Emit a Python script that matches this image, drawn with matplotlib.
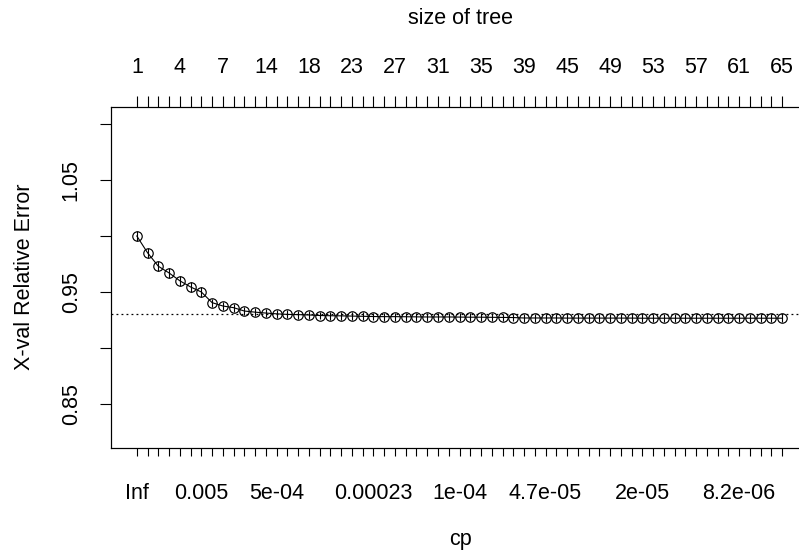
import numpy as np
import matplotlib.pyplot as plt

plt.rcParams['font.family'] = ['Liberation Sans', 'DejaVu Sans']

# ---------- DATA ----------
# cross-validated relative error for each cp step (61 steps)
xerror = [1.000, 0.985, 0.973, 0.967, 0.960, 0.9545, 0.950, 0.9405, 0.9375, 0.936,
          0.933, 0.932, 0.9312, 0.9305, 0.930, 0.9298, 0.9295, 0.929, 0.9288, 0.9287,
          0.9285, 0.9283, 0.9281, 0.928, 0.928, 0.9279, 0.9278, 0.9277, 0.9277, 0.9277,
          0.9276, 0.9275, 0.9275, 0.9274, 0.9273, 0.9272, 0.9268, 0.9268, 0.9268, 0.9268,
          0.9267, 0.9267, 0.9267, 0.9267, 0.9267, 0.9267, 0.9267, 0.9266, 0.9266, 0.9266,
          0.9266, 0.9266, 0.9266, 0.9266, 0.9266, 0.9266, 0.9266, 0.9266, 0.9266, 0.9266,
          0.9266]
xstd = [0.0045] * 7 + [0.0035] * 54

size_pos = [1, 5, 9, 13, 17, 21, 25, 29, 33, 37, 41, 45, 49, 53, 57, 61]
size_labels = ["1", "4", "7", "14", "18", "23", "27", "31", "35", "39", "45", "49",
               "53", "57", "61", "65"]

cp_pos = [1, 7, 14, 23, 31, 39, 48, 57]
cp_labels = ["Inf", "0.005", "5e-04", "0.00023", "1e-04", "4.7e-05", "2e-05", "8.2e-06"]

y_ticks = [0.85, 0.90, 0.95, 1.00, 1.05, 1.10]
y_labels = ["0.85", "", "0.95", "", "1.05", ""]

# ---------- PLOT ----------
W, H = 799, 553
FS = 15.5
fig = plt.figure(figsize=(W / 100, H / 100), dpi=100)
ax = fig.add_axes([111 / W, 1 - 448 / H, (808 - 111) / W, (448 - 107) / H])

pos = np.arange(1, len(xerror) + 1)
err = np.array(xerror)
std = np.array(xstd)

ax.vlines(pos, err - std, err + std, color="black", lw=0.8)
ax.plot(pos, err, color="black", lw=0.8, marker="o", mfc="none", ms=6.8, mew=0.85)

best = np.argmin(err)
ax.axhline(err[best] + std[best], color="black", ls=(0, (1.5, 2.5)), lw=0.9)

ax.set_xlim(-1.4, 63.4)
ax.set_ylim(0.8107, 1.1152)

ax.set_xticks(pos)
ax.set_xticklabels([cp_labels[cp_pos.index(p)] if p in cp_pos else "" for p in pos],
                   fontsize=FS)
ax.tick_params(axis="x", direction="out", length=6, width=0.8, pad=19)

ax.set_yticks(y_ticks)
ax.set_yticklabels(y_labels, rotation=90, va="center", fontsize=FS)
ax.tick_params(axis="y", direction="out", length=8, width=0.8, pad=13)

top = ax.twiny()
top.set_xlim(ax.get_xlim())
top.set_xticks(pos)
top.set_xticklabels([size_labels[size_pos.index(p)] if p in size_pos else "" for p in pos],
                    fontsize=FS)
top.tick_params(axis="x", direction="out", length=8, width=0.8, pad=13)

for a in (ax, top):
    for s in a.spines.values():
        s.set_linewidth(0.8)

fig.text(460 / W, 1 - 18 / H, "size of tree", ha="center", va="center", fontsize=FS)
fig.text(460 / W, 1 - 540 / H, "cp", ha="center", va="center", fontsize=FS)
fig.text(25 / W, 1 - 277 / H, "X-val Relative Error", ha="center", va="center",
         rotation=90, fontsize=FS)

fig.savefig("out.png", dpi=100)
